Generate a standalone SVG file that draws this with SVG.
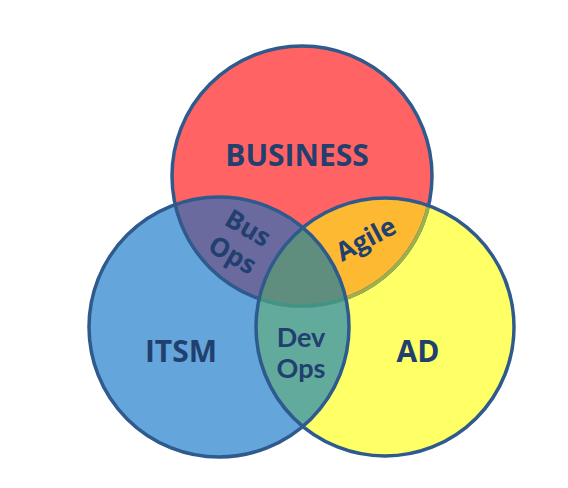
<svg xmlns="http://www.w3.org/2000/svg" xmlns:xlink="http://www.w3.org/1999/xlink" width="568" height="488" viewBox="0 0 568 488">
<style>
.lbl{font-family:"Open Sans","Liberation Sans",sans-serif;font-weight:bold;fill:#213F6F;text-anchor:middle}
.big{font-size:30px}
.small{font-size:26px}
.dv{font-family:Lato,"Open Sans",sans-serif;font-size:27px}
.ol{fill:none;stroke-width:3.5}
</style>
<defs>
<circle id="cB" cx="302" cy="176" r="130"/>
<circle id="cI" cx="219" cy="327" r="130"/>
<circle id="cA" cx="385" cy="327" r="129"/>
<clipPath id="clipB"><use xlink:href="#cB"/></clipPath>
<clipPath id="clipI"><use xlink:href="#cI"/></clipPath>
<clipPath id="clipA"><use xlink:href="#cA"/></clipPath>
</defs>
<rect width="568" height="488" fill="#FFFFFF"/>
<g id="business">
<use xlink:href="#cB" fill="#FF6363"/>
<text class="lbl big" x="297" y="166">BUSINESS</text>
</g>
<g id="itsm">
<use xlink:href="#cI" fill="#64A5DB"/>
<text class="lbl big" x="181" y="362">ITSM</text>
</g>
<g id="ad">
<use xlink:href="#cA" fill="#FFFF66"/>
<text class="lbl big" x="418" y="362">AD</text>
</g>
<g id="bus-ops">
<g clip-path="url(#clipB)"><use xlink:href="#cI" fill="#6B6A9F"/></g>
</g>
<g id="agile">
<g clip-path="url(#clipB)"><use xlink:href="#cA" fill="#FDB932"/></g>
</g>
<g id="dev-ops">
<g clip-path="url(#clipI)"><use xlink:href="#cA" fill="#62AA9C"/></g>
</g>
<g id="core">
<g clip-path="url(#clipB)"><g clip-path="url(#clipI)"><use xlink:href="#cA" fill="#5F8E7E"/></g></g>
</g>
<g id="outlines">
<use xlink:href="#cB" class="ol" stroke="#2E5A8E"/>
<g clip-path="url(#clipA)"><use xlink:href="#cB" class="ol" stroke="#9DB04A"/></g>
<g clip-path="url(#clipA)"><g clip-path="url(#clipI)"><use xlink:href="#cB" class="ol" stroke="#3F9488"/></g></g>
<use xlink:href="#cI" class="ol" stroke="#2E5A8E"/>
<use xlink:href="#cA" class="ol" stroke="#2E5A8E"/>
</g>
<g id="labels">
<g transform="translate(240,242) rotate(30)">
<text class="lbl small" x="0" y="-7">Bus<tspan x="0" dy="31">Ops</tspan></text>
</g>
<g transform="translate(366,239) rotate(-28)">
<text class="lbl small" x="0" y="9">Agile</text>
</g>
<text class="lbl dv" x="301" y="347">Dev<tspan x="301" dy="31">Ops</tspan></text>
</g>
</svg>
